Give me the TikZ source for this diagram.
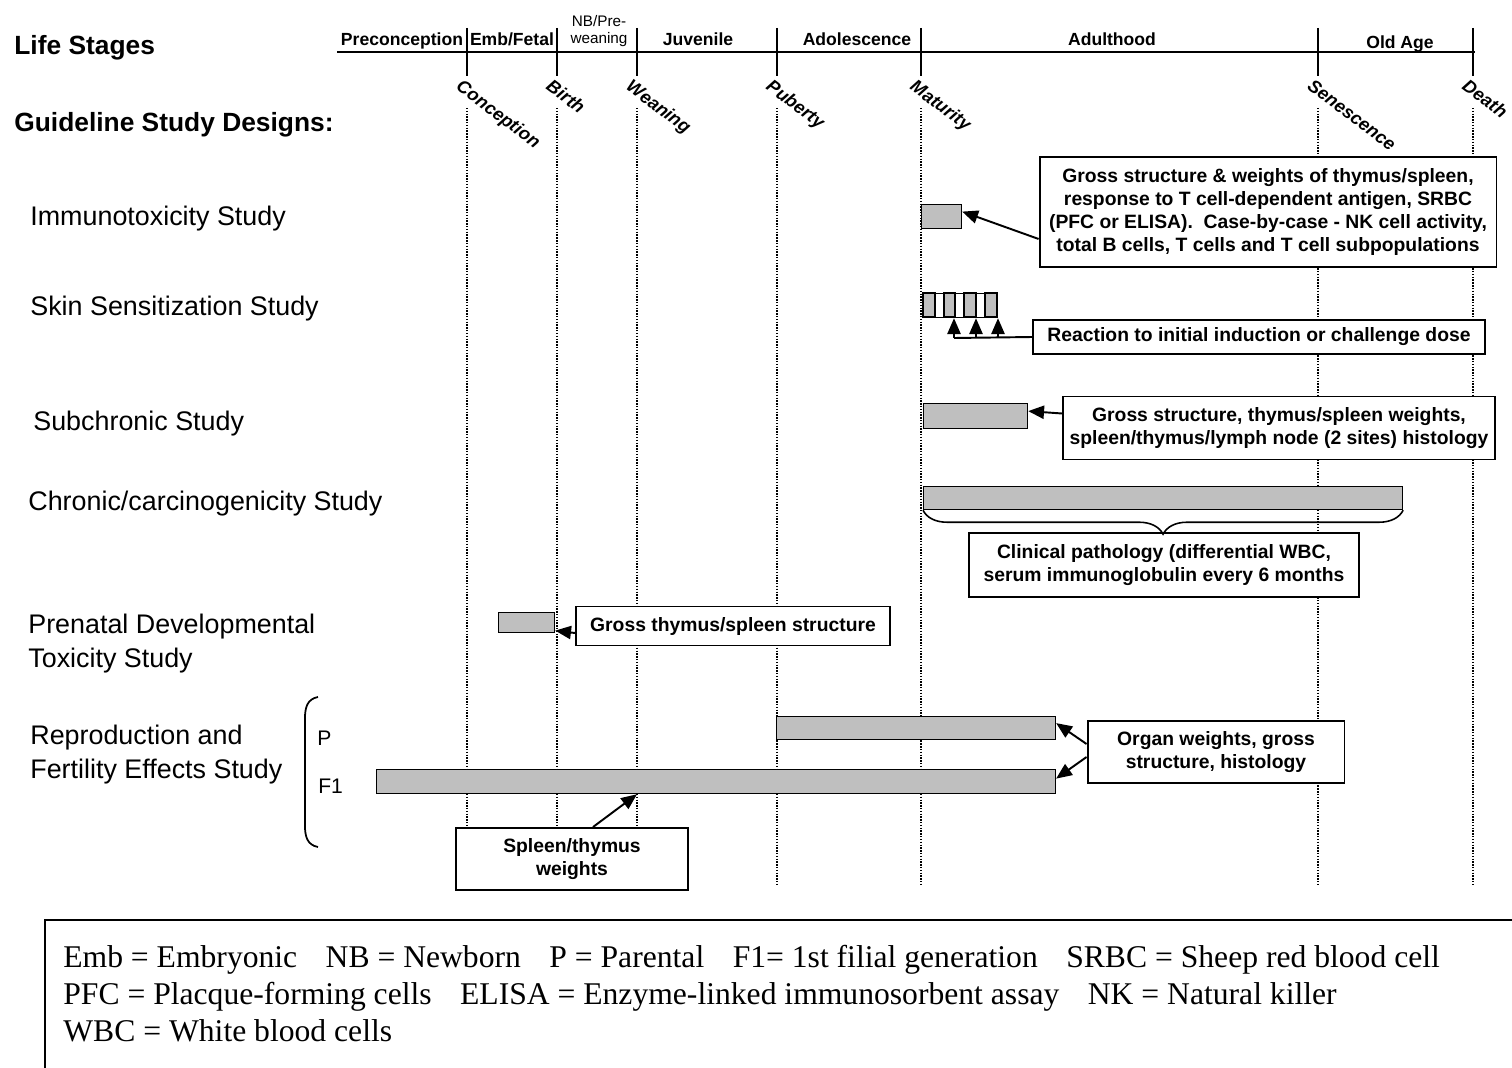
\documentclass[tikz,border=0pt]{standalone}
\usepackage{fontspec}
\setmainfont{Liberation Sans}
\newfontfamily\legendfont{Liberation Serif}
\usepackage{tikz}
\usetikzlibrary{arrows.meta,decorations.pathreplacing}

\begin{document}
\begin{tikzpicture}[x=0.02cm, y=-0.02cm,
    stage/.style={anchor=base, inner sep=0pt, font=\fontsize{10}{12}\selectfont\bfseries},
    milestone/.style={anchor=north west, rotate=-37, inner sep=0pt, font=\fontsize{10.3}{12}\selectfont\bfseries\itshape},
    study/.style={inner sep=0pt, align=left, font=\fontsize{15.3}{19}\selectfont},
    bar/.style={draw, line width=0.7pt, fill=black!25, inner sep=0pt, anchor=north west},
    note/.style={draw, line width=1.1pt, fill=white, align=center, inner sep=2pt, font=\fontsize{11}{13}\selectfont\bfseries},
    arr/.style={line width=1.1pt, -{Triangle[length=9pt, width=7.5pt]}}]
			\useasboundingbox (0,0) rectangle (1512,1068);
			% títulos
			\node[anchor=base west, inner sep=0pt, font=\fontsize{15}{18}\selectfont\bfseries] (lifestages) at (14,55) {Life Stages};
			\node[anchor=base west, inner sep=0pt, font=\fontsize{15}{18}\selectfont\bfseries] (designs) at (14,132) {Guideline Study Designs:};
			% linha do tempo
			\draw[line width=1.1pt] (337,52) -- (1475,52);
			\foreach \x/\n in {467/concep, 557/birth, 637/wean, 777/puber, 921/matur, 1318/senes, 1473/death} {
					\coordinate (t-\n) at (\x,52);
					\draw[line width=1.1pt] (\x,28) -- (\x,76);
					\draw[line width=0.6pt, dash pattern=on 0.8pt off 0.8pt] (\x,108) -- (\x,885);
				}
			\foreach \x/\lab in {402/Preconception, 512/{Emb/Fetal}, 698/Juvenile, 857/Adolescence, 1112/Adulthood} {
					\node[stage] (s-\x) at (\x,46) {\lab};
				}
			\node[stage] (s-old) at (1400,49) {Old Age};
			\node[anchor=south, align=center, inner sep=0pt, font=\fontsize{8.7}{9.8}\selectfont] (s-nb) at (599,47) {NB/Pre-\\weaning};
			% marcos
			\foreach \x/\lab in {467/Conception, 557/Birth, 637/Weaning, 777/Puberty, 921/Maturity, 1318/Senescence, 1473/Death} {
					\node[milestone] (m-\x) at (\x-4,78) {\lab};
				}
			% estudos
			\node[study, anchor=base west] (immuno) at (30,225) {Immunotoxicity Study};
			\node[study, anchor=base west] (skin) at (30,315) {Skin Sensitization Study};
			\node[study, anchor=base west] (subchr) at (33,430) {Subchronic Study};
			\node[study, anchor=base west] (chronic) at (28,510) {Chronic/carcinogenicity Study};
			\node[study, anchor=north west] (prenatal) at (28,614) {Prenatal Developmental\\Toxicity Study};
			\node[study, anchor=north west] (repro) at (30,725) {Reproduction and\\Fertility Effects Study};
			\draw[line width=1pt] (318,697) .. controls (307,699) and (305,708) .. (305,718) -- (305,826) .. controls (305,836) and (307,845) .. (318,847);
			\node[anchor=base west, inner sep=0pt, font=\fontsize{12}{14}\selectfont] (gen-p) at (317,745) {P};
			\node[anchor=base west, inner sep=0pt, font=\fontsize{12}{14}\selectfont] (gen-f) at (318,793) {F1};
			% barras
			\node[bar, minimum width=0.8cm, minimum height=0.48cm] (immbar) at (921,204) {};
			\node[bar, fill=white, minimum width=1.48cm, minimum height=0.48cm] (skinbar) at (923,293) {};
			\foreach \a/\b in {923/935, 944/955, 964/976, 985/997} {
					\draw[line width=0.6pt, fill=black!25] (\a,293) rectangle (\b,317);
				}
			\node[bar, minimum width=2.08cm, minimum height=0.5cm] (subbar) at (923,403) {};
			\node[bar, minimum width=9.58cm, minimum height=0.46cm] (chronbar) at (923,486) {};
			\node[bar, minimum width=1.12cm, minimum height=0.4cm] (prebar) at (498,612) {};
			\node[bar, minimum width=5.58cm, minimum height=0.46cm] (pbar) at (776,716) {};
			\node[bar, minimum width=13.58cm, minimum height=0.48cm] (fbar) at (376,769) {};
			% caixas
			\node[note, minimum width=9.14cm, minimum height=2.2cm] (immbox) at (1268,212) {Gross structure \& weights of thymus/spleen,\\response to T cell-dependent antigen, SRBC\\(PFC or ELISA).\ \ Case-by-case - NK cell activity,\\total B cells, T cells and T cell subpopulations};
			\node[note, minimum width=9.04cm, minimum height=0.68cm] (rxnbox) at (1259,337) {Reaction to initial induction or challenge dose};
			\node[note, minimum width=8.64cm, minimum height=1.26cm] (subbox) at (1279,428) {Gross structure, thymus/spleen weights,\\spleen/thymus/lymph node (2 sites) histology};
			\node[note, minimum width=7.8cm, minimum height=1.28cm] (clinbox) at (1164,565) {Clinical pathology (differential WBC,\\serum immunoglobulin every 6 months};
			\node[note, minimum width=6.28cm, minimum height=0.78cm] (prebox) at (733,626) {Gross thymus/spleen structure};
			\node[note, minimum width=5.14cm, minimum height=1.24cm] (orgbox) at (1216,752) {Organ weights, gross\\structure, histology};
			\node[note, minimum width=4.64cm, minimum height=1.24cm] (splbox) at (572,859) {Spleen/thymus\\weights};
			% setas
			\draw[arr] ([yshift=0.58cm]immbox.south west) -- ([yshift=0.1cm]immbar.east);
			\coordinate (rxnjoin) at (954,338);
			\draw[line width=1.1pt] (rxnbox.west) -- (rxnjoin);
			\foreach \dx in {0, 22, 44} {
					\draw[arr] ([xshift=\dx*0.02cm]rxnjoin) -- ([xshift=\dx*0.02cm]rxnjoin |- skinbar.south);
				}
			\draw[arr] ([yshift=0.29cm]subbox.west) -- ([yshift=0.1cm]subbar.east);
			\draw[line width=0.9pt, decorate, decoration={brace, amplitude=0.48cm}] (chronbar.south east) -- (chronbar.south west);
			\draw[arr] ([yshift=-0.14cm]prebox.west) -- ([yshift=-0.16cm]prebar.east);
			\draw[arr] ([yshift=0.16cm]orgbox.west) -- ([yshift=0.1cm]pbar.east);
			\draw[arr] ([yshift=-0.1cm]orgbox.west) -- ([yshift=0.06cm]fbar.east);
			\draw[arr] ([xshift=0.42cm]splbox.north) -- (t-wean |- fbar.south);
			% legenda
			\draw[line width=1.5pt] (45,1068) -- (45,920) -- (1512,920);
			\node[anchor=north west, align=left, inner sep=0pt, font=\legendfont\fontsize{18}{21}\selectfont] (legend) at (63,945) {Emb = Embryonic\hspace{0.9em}NB = Newborn\hspace{0.9em}P = Parental\hspace{0.9em}F1= 1st filial generation\hspace{0.9em}SRBC = Sheep red blood cell\\PFC = Placque-forming cells\hspace{0.9em}ELISA = Enzyme-linked immunosorbent assay\hspace{0.9em}NK = Natural killer\\WBC = White blood cells};
		\end{tikzpicture}
\end{document}
